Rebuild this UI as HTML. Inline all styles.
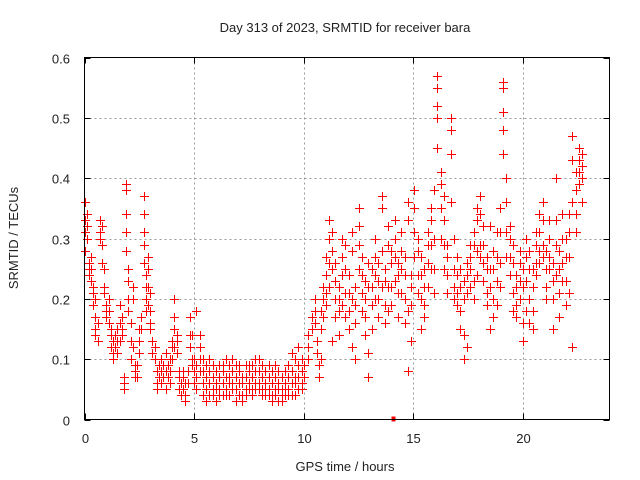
<!DOCTYPE html>
<html><head><meta charset="utf-8"><style>
body{margin:0;background:#fff}
svg{display:block;font-family:"Liberation Sans",sans-serif}
</style></head><body>
<svg id="chart" width="640" height="480" viewBox="0 0 640 480" xmlns="http://www.w3.org/2000/svg">
<rect width="640" height="480" fill="#fff"/>
<text x="345" y="32" font-size="13" text-anchor="middle" fill="#222">Day 313 of 2023, SRMTID for receiver bara</text>
<text x="345" y="471" font-size="13" text-anchor="middle" fill="#222">GPS time / hours</text>
<text transform="translate(18,238) rotate(-90)" font-size="13" text-anchor="middle" fill="#222">SRMTID / TECUs</text>
<g id="grid"></g>
<g id="ticks"></g>
<g id="points" shape-rendering="crispEdges"></g>
<rect x="84.5" y="57.5" width="525" height="362" fill="none" stroke="#000" stroke-width="1"/>
</svg>
<script>
const xTicks=[0,5,10,15,20];
const yTicks=[0,0.1,0.2,0.3,0.4,0.5,0.6];
const yTickLabels=["0","0.1","0.2","0.3","0.4","0.5","0.6"];
const times=[0,0.1,0.2,0.3,0.4,0.5,0.6,0.7,0.8,0.9,1.0,1.1,1.2,1.3,1.4,1.5,1.6,1.7,1.8,1.9,2.0,2.1,2.2,2.3,2.4,2.5,2.6,2.7,2.8,2.9,3.0,3.1,3.2,3.3,3.4,3.5,3.6,3.7,3.8,3.9,4.0,4.1,4.2,4.3,4.4,4.5,4.6,4.7,4.8,4.9,5.0,
5.1,5.25,5.4,5.55,5.7,5.85,6.0,6.15,6.3,6.45,6.6,6.75,6.9,7.05,7.2,7.35,7.5,7.65,7.8,7.95,8.1,8.25,8.4,8.55,8.7,8.85,9.0,9.15,9.3,9.45,9.6,9.75,9.9,
10.0,10.2,10.4,10.5,10.6,10.7,10.8,10.9,
11.0,11.15,11.3,11.45,11.6,11.75,11.9,12.05,12.2,12.35,12.5,12.65,12.8,12.95,13.1,13.25,13.4,13.55,13.7,13.85,14.0,14.15,14.3,14.45,14.6,14.75,14.9,15.05,15.2,15.35,15.5,15.65,15.8,15.95,16.1,16.25,16.4,16.55,16.7,16.85,17.0,17.15,17.3,17.45,17.6,17.75,17.9,18.05,18.2,18.35,18.5,18.65,18.8,18.95,19.1,19.25,19.4,19.55,19.7,19.85,20.0,20.15,20.3,20.45,20.6,20.75,20.9,21.05,21.2,21.35,21.5,21.65,21.8,21.95,22.1,22.25,22.4,22.55,22.7];
const values=[[.28,.36,.33,.31],[.34,.30,.32],[.26,.25,.24],[.25,.27,.23],[.21,.22,.19],[.17,.20,.15,.14],[.13,.16],[.31,.33,.30],[.32,.29,.26],[.25,.22,.21],[.19,.18,.17],[.18,.20,.16],[.14,.12,.15],[.11,.10,.13],[.14,.12],[.13,.15,.11],[.16,.19,.13],[.15,.17,.14],[.07,.06,.05],[.39,.38,.34,.31,.28],[.25,.23,.20,.18],[.16,.13,.10],[.22,.20,.12],[.09,.08,.07],[.09,.07],[.15,.13,.11],[.17,.15],[.37,.34,.31,.29,.26],[.24,.22,.20,.18],[.27,.25,.22,.19],[.21,.18,.16,.15],[.13,.11],[.12,.10],[.08,.06,.05],[.09,.07],[.08,.10,.06],[.09,.07],[.11,.08,.05],[.07,.09],[.10,.08,.06],[.12,.10,.13],[.20,.17,.15,.12],[.14,.13,.11],[.07,.05,.08],[.06,.04],[.08,.05,.07],[.04,.03,.06],[.08,.06],[.17,.14,.12],[.14,.10,.09],[.08,.06,.10],
[.09,.07,.05,.18],[.14,.12,.10,.08],[.10,.08,.06,.04],[.09,.07,.05,.03],[.08,.06,.04,.10],[.07,.05,.04,.09],[.08,.06,.05,.03],[.09,.07,.05,.04],[.08,.06,.04,.09],[.10,.07,.05,.04],[.09,.07,.06,.04],[.08,.06,.05,.10],[.09,.07,.05,.03],[.08,.06,.04,.09],[.07,.06,.04,.03],[.09,.07,.05,.04],[.08,.06,.05,.09],[.09,.07,.05,.04],[.08,.06,.05,.10],[.10,.08,.06,.05],[.09,.07,.05,.04],[.08,.06,.05,.04],[.09,.07,.05,.04],[.08,.06,.04,.03],[.07,.05,.04,.09],[.08,.06,.05,.03],[.07,.05,.04,.03],[.06,.05,.04,.08],[.09,.07,.05,.04],[.11,.08,.06,.04],[.10,.07,.06,.04],[.09,.07,.05,.12],[.08,.06,.05,.10],
[.09,.07],[.14,.12,.10],[.17,.15],[.20,.18,.16],[.13,.11],[.09,.07],[.18,.15,.10],[.22,.20,.17],
[.27,.24,.21,.19],[.33,.30,.26,.22],[.31,.28,.25,.13],[.26,.23,.20,.17],[.22,.20,.18,.14],[.30,.27,.24,.19],[.29,.25,.21,.17],[.24,.21,.18,.15],[.31,.28,.20,.12],[.22,.19,.16,.10],[.35,.32,.29,.25],[.27,.24,.21,.18],[.23,.20,.17,.14],[.26,.22,.11,.07],[.25,.22,.19,.15],[.30,.27,.24,.20],[.26,.23,.20,.17],[.37,.35,.28,.22],[.25,.23,.19,.16],[.32,.29,.22,.18],[.28,.26,.22,.19],[.33,.30,.27,.23],[.26,.24,.21,.17],[.31,.28,.25,.21],[.27,.24,.20,.16],[.36,.33,.18,.08],[.24,.22,.19,.13],[.38,.35,.31,.27],[.30,.28,.24,.21],[.27,.24,.20,.15],[.25,.22,.19,.17],[.31,.29,.26,.22],[.35,.33,.29,.25],[.38,.30,.25,.21],[.57,.55,.52,.50,.45],[.41,.39,.35,.30],[.37,.33,.29,.25],[.29,.27,.24,.21],[.50,.48,.44,.36],[.30,.25,.22,.20],[.27,.24,.21,.19],[.25,.22,.18,.15],[.23,.20,.14,.10],[.26,.24,.21,.12],[.29,.27,.25,.22],[.31,.29,.23,.20],[.35,.33,.28,.24],[.37,.34,.29,.27],[.32,.29,.26,.23],[.27,.25,.21,.19],[.32,.25,.22,.15],[.28,.25,.20,.17],[.31,.27,.23,.19],[.35,.31,.26,.22],[.56,.55,.51,.48,.44],[.40,.36,.31,.27],[.32,.30,.27,.24],[.29,.26,.21,.18],[.24,.22,.19,.17],[.28,.26,.23,.20],[.25,.22,.16,.13],[.30,.27,.23,.18],[.28,.25,.20,.16],[.25,.22,.18,.15],[.31,.29,.26,.24],[.34,.31,.28,.26],[.36,.33,.29,.27],[.28,.25,.22,.20],[.33,.30,.27,.25],[.26,.23,.20,.15],[.40,.33,.29,.24],[.28,.25,.21,.17],[.34,.30,.26,.23],[.30,.27,.23,.19],[.34,.31,.27,.21],[.47,.43,.36,.12],[.41,.38,.34,.31],[.45,.43,.41,.39],[.44,.42,.40,.36]];
const markerTimes=[14.1];
const markerValues=[0];

const X0=84.5,X1=609.5,Y0=419.5,Y1=57.5,TMAX=23.95,VMAX=0.6;
function xs(t){return X0+t/TMAX*(X1-X0);}
function ys(v){return Y0-v/VMAX*(Y0-Y1);}
const NS="http://www.w3.org/2000/svg";
const grid=document.getElementById('grid'),ticks=document.getElementById('ticks'),pts=document.getElementById('points');
function mk(tag,attrs,parent){const e=document.createElementNS(NS,tag);for(const k in attrs)e.setAttribute(k,attrs[k]);parent.appendChild(e);return e;}
xTicks.forEach(t=>{
  const x=Math.round(xs(t))+0.5;
  if(t>0){const g=mk('line',{x1:x,x2:x,y1:Y1,y2:Y0,stroke:'#999','stroke-dasharray':'2,3'},grid);
  
  }
  mk('line',{x1:x,x2:x,y1:Y0,y2:Y0-6,stroke:'#000'},ticks);
  mk('line',{x1:x,x2:x,y1:Y1,y2:Y1+6,stroke:'#000'},ticks);
  const l=mk('text',{x:x,y:443,'font-size':13,'text-anchor':'middle',fill:'#222'},ticks);
  l.textContent=String(t);
  
  
});
yTicks.forEach((v,i)=>{
  const y=Math.round(ys(v))+0.5;
  if(v>0&&v<0.6){const g=mk('line',{x1:X0,x2:X1,y1:y,y2:y,stroke:'#999','stroke-dasharray':'2,3'},grid);
  
  }
  mk('line',{x1:X0,x2:X0+6,y1:y,y2:y,stroke:'#000'},ticks);
  mk('line',{x1:X1,x2:X1-6,y1:y,y2:y,stroke:'#000'},ticks);
  const l=mk('text',{x:70,y:y+5,'font-size':13,'text-anchor':'end',fill:'#222'},ticks);
  l.textContent=yTickLabels[i];
  
  
});
times.forEach((t,i)=>{
  values[i].forEach(v=>{
    const x=Math.round(xs(t)),y=Math.round(ys(v));
    const h=mk('rect',{x:x-4,y:y,width:9,height:1.2,fill:'#ff0000'},pts);
    
    
    const vv=mk('rect',{x:x,y:y-4,width:1.2,height:9,fill:'#ff0000'},pts);
    
    
  });
});
markerTimes.forEach((t,i)=>{
  const r=mk('rect',{x:xs(t)-2,y:ys(markerValues[i])-3,width:4,height:5,fill:'#f00'},pts);
  
  
});
</script>
</body></html>
